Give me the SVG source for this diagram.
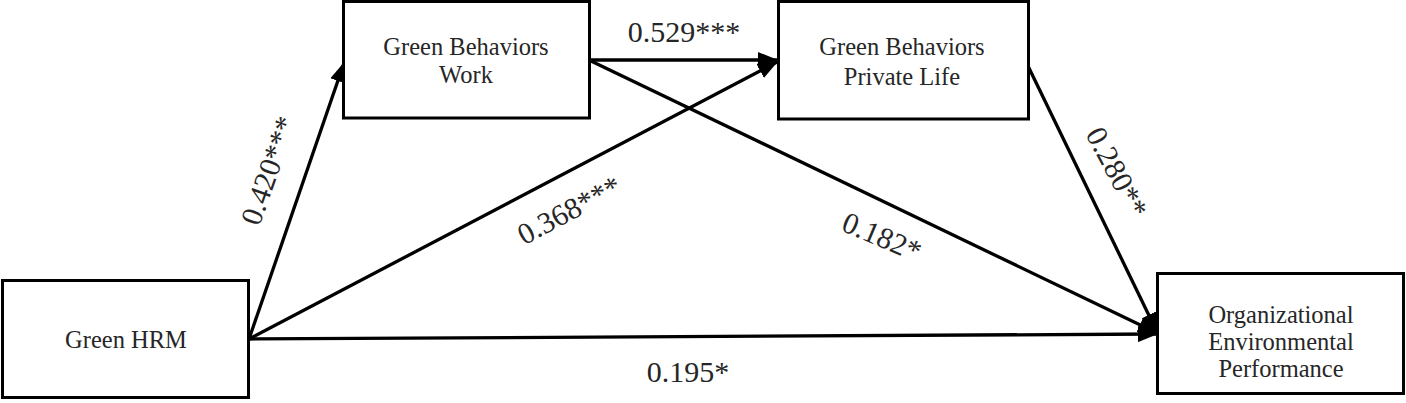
<svg xmlns="http://www.w3.org/2000/svg" width="1406" height="403" viewBox="0 0 1406 403">
<style>
.box{fill:#ffffff;stroke:#000000;stroke-width:3}
.nt{font-family:"Liberation Serif","Times New Roman",serif;font-size:24.5px;fill:#262626;text-anchor:middle}
.lb{font-family:"Liberation Serif","Times New Roman",serif;font-size:30px;fill:#262626;text-anchor:middle}
.ln{fill:none;stroke:#000000;stroke-width:3.3;marker-end:url(#ah)}
</style>
<defs>
<marker id="ah" markerUnits="userSpaceOnUse" markerWidth="20" markerHeight="16" viewBox="0 0 20 16" refX="19" refY="8" orient="auto">
<path d="M0,0 L20,8 L0,16 Z" fill="#000000"/>
</marker>
</defs>
<rect width="1406" height="403" fill="#ffffff"/>
<g id="connectors">
<line class="ln" x1="249" y1="339" x2="344" y2="63"/>
<line class="ln" x1="249" y1="339" x2="777" y2="62"/>
<line class="ln" x1="589" y1="60" x2="777" y2="60"/>
<line class="ln" x1="591" y1="61" x2="1157" y2="333"/>
<line class="ln" x1="1028" y1="66" x2="1157" y2="332"/>
<line class="ln" x1="249" y1="339" x2="1157" y2="334"/>
<text class="lb" x="278" y="174" transform="rotate(-70.5 278 174)">0.420***</text>
<text class="lb" x="574" y="219" transform="rotate(-28 574 219)">0.368***</text>
<text class="lb" x="684" y="42">0.529***</text>
<text class="lb" x="878" y="246" transform="rotate(23 878 246)">0.182*</text>
<text class="lb" x="1108" y="177" transform="rotate(62 1108 177)">0.280**</text>
<text class="lb" x="688" y="382">0.195*</text>
</g>
<g id="green-hrm">
<rect class="box" x="2.5" y="280.5" width="246" height="117"/>
<text class="nt" x="126" y="348">Green HRM</text>
</g>
<g id="green-behaviors-work">
<rect class="box" x="343.5" y="1.5" width="246" height="116.5"/>
<text class="nt" x="466" y="55">Green Behaviors</text>
<text class="nt" x="466" y="83">Work</text>
</g>
<g id="green-behaviors-private-life">
<rect class="box" x="778.5" y="1.5" width="250" height="117.5"/>
<text class="nt" x="902" y="55">Green Behaviors</text>
<text class="nt" x="902" y="85">Private Life</text>
</g>
<g id="organizational-environmental-performance">
<rect class="box" x="1157.5" y="273.5" width="246" height="120"/>
<text class="nt" x="1281" y="323">Organizational</text>
<text class="nt" x="1281" y="350">Environmental</text>
<text class="nt" x="1281" y="377">Performance</text>
</g>
</svg>
